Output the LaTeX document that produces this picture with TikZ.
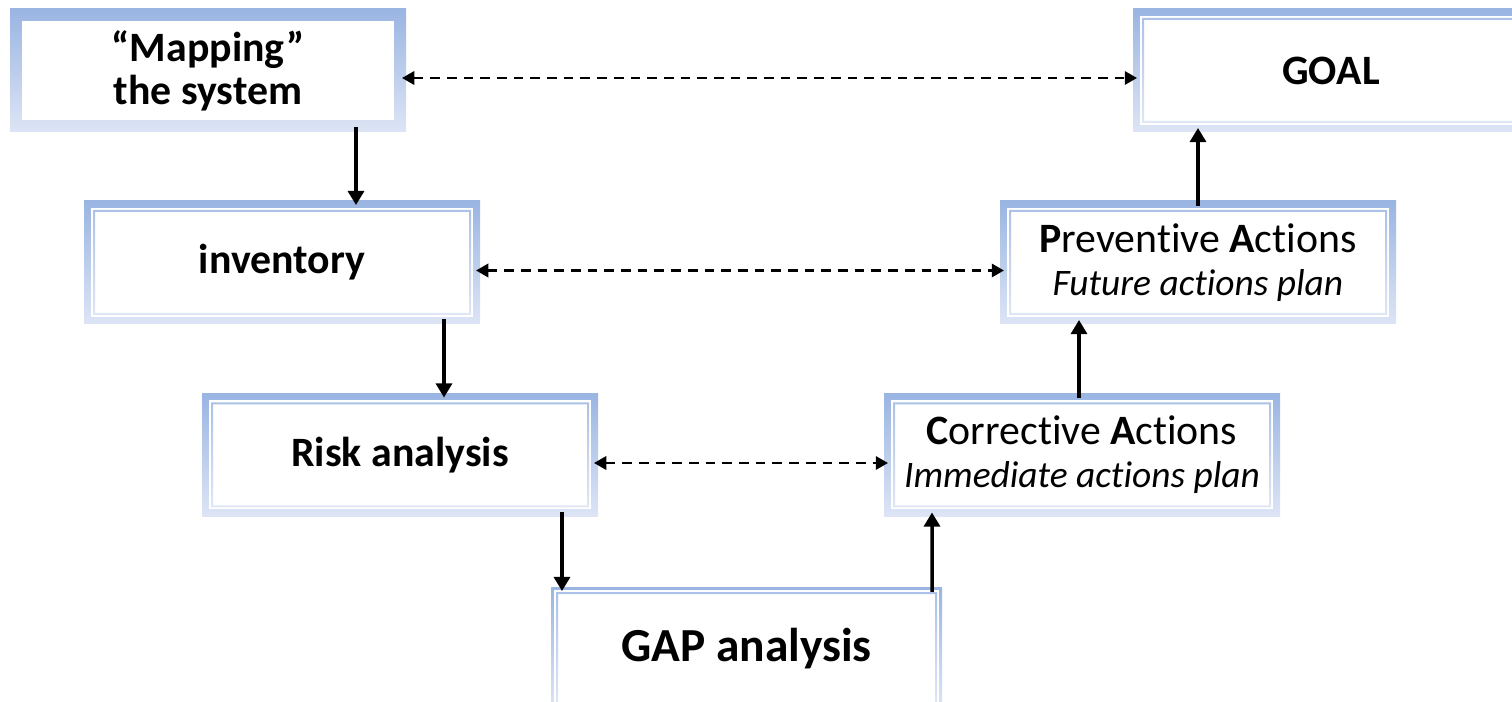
\documentclass[tikz,border=0pt]{standalone}
\usepackage{fontspec}
\setmainfont[Ligatures=NoCommon]{Carlito}
\usetikzlibrary{arrows.meta,calc}
\newlength\pxu
\setlength\pxu{0.02cm}
\definecolor{bandtop}{HTML}{9AB5E2}
\definecolor{bandbot}{HTML}{DDE5F5}
\definecolor{rimtop}{HTML}{ABC1E8}
\definecolor{rimbot}{HTML}{E0E7F6}
\newcommand\panelframe[2]{%
  \fill[white] ([shift={(#1*\pxu,-#1*\pxu)}]path picture bounding box.north west) rectangle ([shift={(-#1*\pxu,#1*\pxu)}]path picture bounding box.south east);
  \ifnum#2=1
  \shade[top color=rimtop, bottom color=rimbot, even odd rule]
    ([shift={(#1*\pxu+2*\pxu,-#1*\pxu-2*\pxu)}]path picture bounding box.north west) rectangle ([shift={(-#1*\pxu-2*\pxu,#1*\pxu+2*\pxu)}]path picture bounding box.south east)
    ([shift={(#1*\pxu+4*\pxu,-#1*\pxu-4*\pxu)}]path picture bounding box.north west) rectangle ([shift={(-#1*\pxu-4*\pxu,#1*\pxu+4*\pxu)}]path picture bounding box.south east);
  \fi}
\newcommand\planline{\fontsize{21.3pt}{24.5pt}\selectfont\itshape}
\tikzset{
  panel/.style={rectangle, top color=bandtop, bottom color=bandbot, minimum width=396*\pxu, minimum height=123*\pxu, inner sep=0pt, align=center, font=\fontsize{23.8pt}{24.5pt}\selectfont, path picture={\panelframe{7}{1}}},
  panelbare/.style={panel, path picture={\panelframe{12}{0}}},
  panelslim/.style={panel, path picture={\panelframe{3}{1}}},
  flow/.style={-{Triangle[width=9pt,length=8pt]}, line width=2pt, shorten <=-3pt, shorten >=-2.5pt},
  link/.style={{Triangle[width=7.5pt,length=7pt]}-{Triangle[width=7.5pt,length=7pt]}, line width=1.6pt, dash pattern=on 5.5pt off 4pt, shorten <=-2.5pt, shorten >=-2.5pt}
}
\begin{document}
\begin{tikzpicture}[x=0.02cm, y=-0.02cm]
  \clip (0,0) rectangle (1512,702);
  \node[panelbare] (map) at (208,70.5) {\bfseries “Mapping”\\\bfseries the system};
  \node[panel] (goal) at (1331,70.5) {\bfseries GOAL};
  \node[panel] (inv) at (282,262.5) {\bfseries inventory};
  \node[panel] (prev) at (1198,262.5) {{\bfseries P}reventive {\bfseries A}ctions\\\planline Future actions plan};
  \node[panel] (risk) at (400,455) {\bfseries Risk analysis};
  \node[panel] (corr) at (1082,455) {{\bfseries C}orrective {\bfseries A}ctions\\\planline Immediate actions plan};
  \node[panelslim, minimum width=391*\pxu, font=\fontsize{27pt}{28pt}\selectfont] (gap) at (746.5,648.5) {\bfseries GAP analysis};

  \draw[flow] ($(map.south)+(148,0)$) -- ($(inv.north)+(74,0)$);
  \draw[flow] ($(inv.south)+(162,0)$) -- ($(risk.north)+(44,0)$);
  \draw[flow] ($(risk.south)+(162,0)$) -- ($(gap.north)+(-184.5,0)$);
  \draw[flow] ($(gap.north)+(185.5,0)$) -- ($(corr.south)+(-150,0)$);
  \draw[flow] ($(corr.north)+(-3,0)$) -- ($(prev.south)+(-119,0)$);
  \draw[flow] (prev.north) -- ($(goal.south)+(-133,0)$);

  \draw[link] ($(map.east)+(0,7.5)$) -- ($(goal.west)+(0,7.5)$);
  \draw[link] ($(inv.east)+(0,8)$) -- ($(prev.west)+(0,8)$);
  \draw[link] ($(risk.east)+(0,8)$) -- ($(corr.west)+(0,8)$);
\end{tikzpicture}
\end{document}
